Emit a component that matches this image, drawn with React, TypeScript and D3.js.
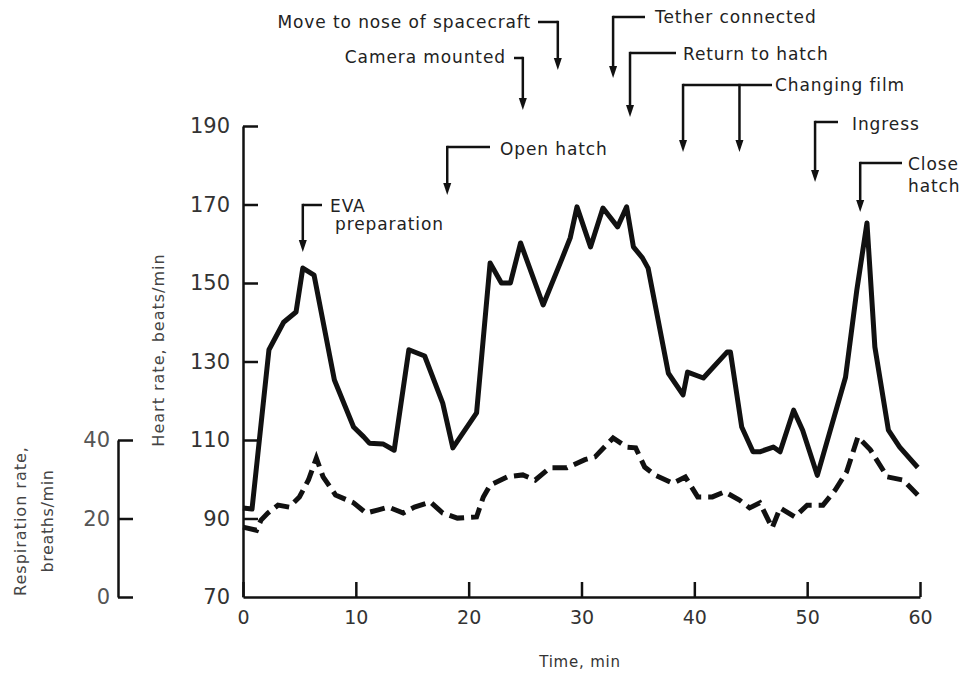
import * as React from 'react';
import { axisBottom, axisLeft, line, scaleLinear, select } from 'd3';

// heart rate, beats/min (solid)
const hrTime = [0, 0.8, 2.3, 3.6, 4.7, 5.3, 6.3, 8.1, 9.8, 10.7, 11.2, 12.4, 13.4, 14.7, 16.1, 17.7, 18.6, 20.7, 21.9, 22.9, 23.7, 24.6, 26.6, 28.3, 29, 29.6, 30.8, 31.9, 33.2, 34, 34.6, 35.4, 35.9, 37.7, 39, 39.4, 40.8, 42.9, 43.2, 44.2, 45.2, 45.8, 47, 47.6, 48.8, 49.6, 50.9, 53.4, 54.4, 55.3, 56, 57.2, 58.2, 59.8];
const hrValues = [92.7, 92.4, 133, 140, 142.6, 153.8, 152, 125.3, 113.3, 110.8, 109.2, 109, 107.4, 133, 131.4, 119.4, 108, 116.9, 155.1, 150, 150, 160.2, 144.4, 156.4, 161.5, 169.4, 159.2, 169.1, 164.3, 169.4, 159.2, 156.4, 153.8, 127, 121.5, 127.3, 125.8, 132.4, 132.4, 113.3, 107, 107, 108.2, 107, 117.6, 112.5, 101, 126, 148.2, 165.3, 133.7, 112.5, 108.2, 103];

// respiration rate, breaths/min (dashed)
const respTime = [0, 1.2, 1.6, 2.2, 3.1, 4.1, 5, 5.8, 6.5, 7.1, 8.2, 9.8, 10.9, 12, 12.9, 14.2, 15.2, 16.6, 17.7, 19, 20.7, 21.3, 21.9, 23.4, 24.8, 25.9, 27.2, 28.7, 30.3, 31.2, 32.8, 34, 34.8, 35.6, 36.5, 38.1, 39.2, 40.3, 41.6, 42.7, 44, 44.9, 45.8, 46.9, 47.6, 48.9, 50, 51.4, 52.5, 53.5, 54.5, 55.6, 57.1, 58.5, 59.8];
const respValues = [17.8, 17, 19.6, 21.4, 23.4, 22.9, 25.5, 29.8, 35.4, 30.6, 26, 24, 21.4, 22.2, 22.9, 21.4, 22.9, 24.2, 21.4, 20.1, 20.4, 25.5, 28.5, 30.6, 31.1, 29.8, 32.9, 32.9, 35, 35.7, 40.5, 38.2, 38, 33.1, 31.1, 29, 30.6, 25.5, 25.5, 26.8, 24.7, 22.7, 24, 17.6, 22.7, 20.4, 23.4, 23.4, 27.3, 31.9, 40.8, 37.5, 30.6, 29.8, 26];

const timeTicks = [0, 10, 20, 30, 40, 50, 60];
const hrTicks = [70, 90, 110, 130, 150, 170, 190];
const respTicks = [0, 20, 40];

// event markers: label lines and time(s) of the arrow(s), min
const eventLabels = [["EVA", "preparation"], ["Open hatch"], ["Camera mounted"], ["Move to nose of spacecraft"], ["Tether connected"], ["Return to hatch"], ["Changing film"], ["Ingress"], ["Close", "hatch"]];
const eventTimes = [[5.3], [18.1], [24.8], [27.9], [32.8], [34.3], [39, 44], [50.7], [54.7]];

// where each label / bracket sits on the page
const eventLayout = [
    { top: 205, tip: 252, side: 'right', barEnd: 322, textX: 330, base: [212, 230], dx2: 5 },
    { top: 147, tip: 195, side: 'right', barEnd: 490, textX: 500, base: [155] },
    { top: 58, tip: 110, side: 'left', barEnd: 514, textX: 506, base: [63] },
    { top: 22, tip: 70, side: 'left', barEnd: 538, textX: 531, base: [28] },
    { top: 17, tip: 78, side: 'right', barEnd: 645, textX: 655, base: [23] },
    { top: 53, tip: 117, side: 'right', barEnd: 676, textX: 683, base: [60] },
    { top: 85, tip: 152, side: 'right', barEnd: 772, textX: 775, base: [91] },
    { top: 122, tip: 182, side: 'right', barEnd: 838, textX: 852, base: [130] },
    { top: 163, tip: 212, side: 'right', barEnd: 902, textX: 908, base: [170, 192] },
];

const FONT = '"DejaVu Sans", sans-serif';

const App = () => {
    const svgRef = React.useRef<SVGSVGElement>(null);

    const x = scaleLinear().domain([0, 60]).range([243, 920]);
    const yHr = scaleLinear().domain([70, 190]).range([597, 126]);
    const yResp = scaleLinear().domain([0, 40]).range([597, 440]);

    const hrLine = line<number>().x((d, i) => x(hrTime[i])).y(d => yHr(d));
    const respLine = line<number>().x((d, i) => x(respTime[i])).y(d => yResp(d));

    React.useEffect(() => {
        document.body.style.margin = '0';
        if (!svgRef.current) return;
        const svg = select(svgRef.current);

        const style = (g: any, size: number, color: string) => {
            g.select('.domain').attr('stroke', '#111').attr('stroke-width', 2.5);
            g.selectAll('.tick line').attr('stroke', '#111').attr('stroke-width', 2.5);
            g.selectAll('.tick text').attr('fill', color).style('font-size', size + 'px').style('font-family', FONT);
        };

        const xg = svg.select<SVGGElement>('.x-axis')
            .attr('transform', `translate(0, ${yHr(70)})`)
            .call(axisBottom(x).tickValues(timeTicks).tickSizeInner(-15).tickSizeOuter(0).tickPadding(14) as any);
        style(xg, 19, '#333');

        const yg = svg.select<SVGGElement>('.y-axis')
            .attr('transform', `translate(${x(0)}, 0)`)
            .call(axisLeft(yHr).tickValues(hrTicks).tickSizeInner(-15).tickSizeOuter(0).tickPadding(13) as any);
        style(yg, 21, '#333');
        yg.selectAll('.tick line').filter((d: any) => d === 70).remove();

        const rg = svg.select<SVGGElement>('.resp-axis')
            .attr('transform', `translate(118, 0)`)
            .call(axisLeft(yResp).tickValues(respTicks).tickSizeInner(-15).tickSizeOuter(0).tickPadding(8) as any);
        style(rg, 21, '#555');
    }, []);

    return (
        <div style={{ position: 'absolute', left: 0, top: 0 }}>
            <svg ref={svgRef} width={964} height={676} style={{ background: 'white', display: 'block' }}>
                <g className="x-axis" />
                <g className="y-axis" />
                <g className="resp-axis" />

                <path d={respLine(respValues) || ''} fill="none" stroke="#111" strokeWidth={5} strokeDasharray="15 7" />
                <path d={hrLine(hrValues) || ''} fill="none" stroke="#111" strokeWidth={5} strokeLinejoin="round" />

                <text transform={`translate(164, 350) rotate(-90)`} textAnchor="middle" fontFamily={FONT} fontSize={16} letterSpacing={1} fill="#444">Heart rate, beats/min</text>
                <text transform={`translate(26, 521) rotate(-90)`} textAnchor="middle" fontFamily={FONT} fontSize={16} letterSpacing={1} fill="#444">Respiration rate,</text>
                <text transform={`translate(53, 521) rotate(-90)`} textAnchor="middle" fontFamily={FONT} fontSize={16} letterSpacing={0.6} fill="#444">breaths/min</text>
                <text x={580} y={667} textAnchor="middle" fontFamily={FONT} fontSize={15} letterSpacing={0.8} fill="#333">Time, min</text>

                {eventLabels.map((lines, i) => {
                    const lay = eventLayout[i];
                    const xs = eventTimes[i].map(t => x(t));
                    const barFrom = lay.side === 'right' ? xs[0] : lay.barEnd;
                    const barTo = lay.side === 'right' ? lay.barEnd : xs[xs.length - 1];
                    return (
                        <g key={i}>
                            <line x1={barFrom} x2={barTo} y1={lay.top} y2={lay.top} stroke="#111" strokeWidth={2.5} />
                            {xs.map((ax, j) => (
                                <g key={j}>
                                    <line x1={ax} x2={ax} y1={lay.top - 1.2} y2={lay.tip - 8} stroke="#111" strokeWidth={2.5} />
                                    <path d={`M${ax - 4},${lay.tip - 12}L${ax + 4},${lay.tip - 12}L${ax},${lay.tip}Z`} fill="#111" />
                                </g>
                            ))}
                            {lines.map((s, k) => (
                                <text key={k} x={lay.textX + (k > 0 ? (lay.dx2 || 0) : 0)} y={lay.base[k]}
                                    textAnchor={lay.side === 'right' ? 'start' : 'end'}
                                    fontFamily={FONT} fontSize={17} letterSpacing={0.9} fill="#222">{s}</text>
                            ))}
                        </g>
                    );
                })}
            </svg>
        </div>
    );
};

export default App;
